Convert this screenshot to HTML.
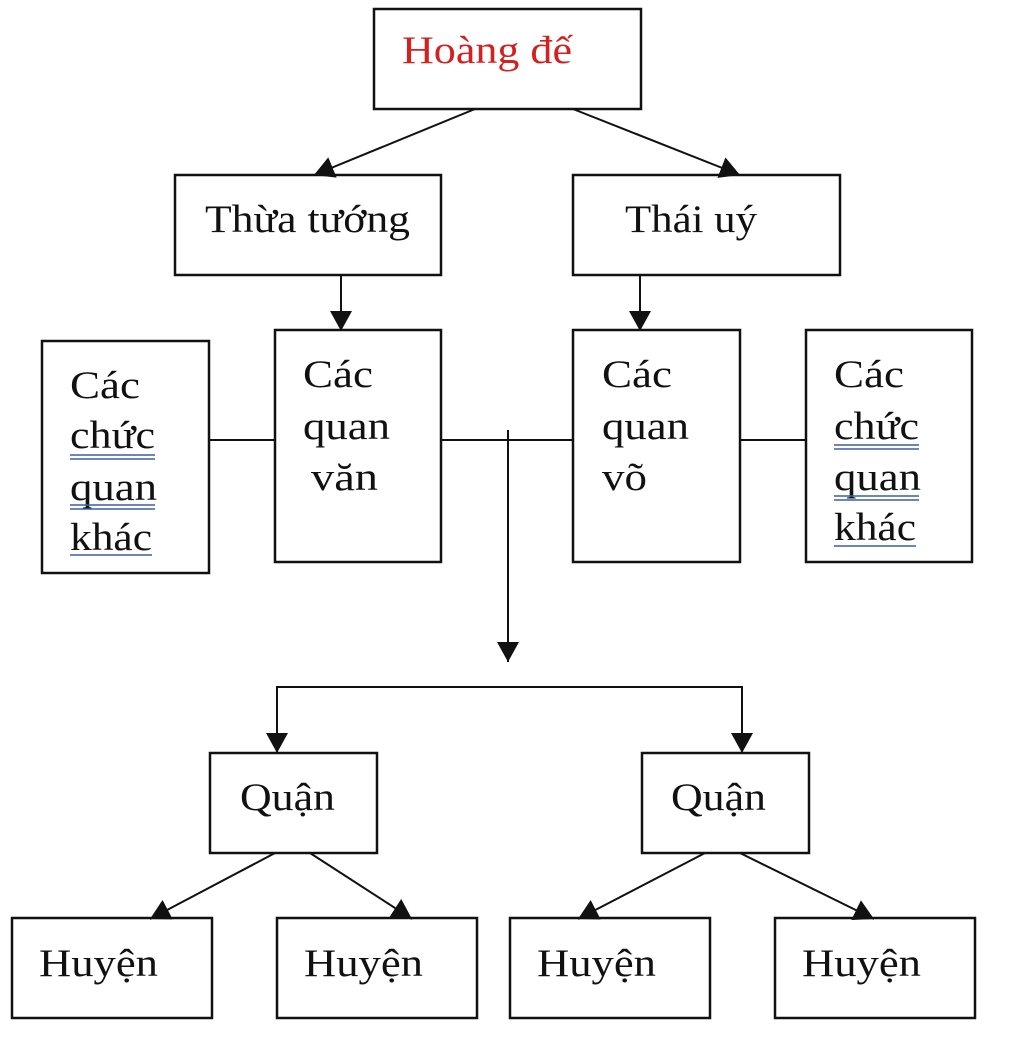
<!DOCTYPE html>
<html><head><meta charset="utf-8"><style>
html,body{margin:0;padding:0;background:#fff}
svg{display:block}
text{font-family:"Liberation Serif",serif;font-size:39px;fill:#111}
</style></head><body>
<svg width="1024" height="1051" viewBox="0 0 1024 1051" xmlns="http://www.w3.org/2000/svg">
<defs><marker id="b" markerWidth="22" markerHeight="22" refX="20" refY="11" orient="auto" markerUnits="userSpaceOnUse"><path d="M0,0 L20,11 L0,22 z" fill="#111"/></marker></defs>
<g fill="none" stroke="#111" stroke-width="2.5">
<rect x="374" y="9" width="267" height="100"/>
<rect x="175" y="175" width="266" height="100"/>
<rect x="573" y="175" width="267" height="100"/>
<rect x="42" y="341" width="167" height="232"/>
<rect x="275" y="330" width="166" height="232"/>
<rect x="573" y="330" width="167" height="232"/>
<rect x="806" y="330" width="166" height="232"/>
<rect x="210" y="753" width="167" height="100"/>
<rect x="642" y="753" width="167" height="100"/>
<rect x="12" y="918" width="200" height="100"/>
<rect x="277" y="918" width="200" height="100"/>
<rect x="510" y="918" width="200" height="100"/>
<rect x="775" y="918" width="200" height="100"/>
<g stroke-width="2">
<line x1="475" y1="109" x2="314" y2="175" marker-end="url(#b)"/>
<line x1="573" y1="109" x2="740" y2="175" marker-end="url(#b)"/>
<line x1="341" y1="275" x2="341" y2="331" marker-end="url(#b)"/>
<line x1="640" y1="275" x2="640" y2="331" marker-end="url(#b)"/>
<line x1="209" y1="440" x2="275" y2="440"/>
<line x1="441" y1="440" x2="573" y2="440"/>
<line x1="740" y1="440" x2="806" y2="440"/>
<line x1="508" y1="430" x2="508" y2="662" marker-end="url(#b)"/>
<polyline points="277,753 277,687 742,687 742,753"/>
<line x1="277" y1="730" x2="277" y2="753" marker-end="url(#b)"/>
<line x1="742" y1="730" x2="742" y2="753" marker-end="url(#b)"/>
<line x1="275" y1="853" x2="150" y2="919" marker-end="url(#b)"/>
<line x1="310" y1="853" x2="412" y2="919" marker-end="url(#b)"/>
<line x1="705" y1="853" x2="578" y2="919" marker-end="url(#b)"/>
<line x1="740" y1="853" x2="874" y2="919" marker-end="url(#b)"/>
</g></g>
<text x="402" y="63" textLength="170" lengthAdjust="spacingAndGlyphs" style="fill:#d42020">Hoàng đế</text>
<text x="205" y="232" textLength="205" lengthAdjust="spacingAndGlyphs">Thừa tướng</text>
<text x="625" y="232" textLength="132" lengthAdjust="spacingAndGlyphs">Thái uý</text>
<text x="70" y="398" textLength="70" lengthAdjust="spacingAndGlyphs">Các</text>
<text x="70" y="448" textLength="85" lengthAdjust="spacingAndGlyphs">chức</text>
<text x="70" y="500" textLength="87" lengthAdjust="spacingAndGlyphs">quan</text>
<text x="70" y="550" textLength="82" lengthAdjust="spacingAndGlyphs">khác</text>
<text x="303" y="387" textLength="70" lengthAdjust="spacingAndGlyphs">Các</text>
<text x="303" y="439" textLength="87" lengthAdjust="spacingAndGlyphs">quan</text>
<text x="311" y="490" textLength="67" lengthAdjust="spacingAndGlyphs">văn</text>
<text x="602" y="387" textLength="70" lengthAdjust="spacingAndGlyphs">Các</text>
<text x="602" y="439" textLength="87" lengthAdjust="spacingAndGlyphs">quan</text>
<text x="602" y="490" textLength="45" lengthAdjust="spacingAndGlyphs">võ</text>
<text x="834" y="387" textLength="70" lengthAdjust="spacingAndGlyphs">Các</text>
<text x="834" y="439" textLength="85" lengthAdjust="spacingAndGlyphs">chức</text>
<text x="834" y="490" textLength="87" lengthAdjust="spacingAndGlyphs">quan</text>
<text x="834" y="540" textLength="82" lengthAdjust="spacingAndGlyphs">khác</text>
<g stroke="#3a5fa8" stroke-width="1.5">
<line x1="70" y1="455" x2="155" y2="455"/><line x1="70" y1="459" x2="155" y2="459"/>
<line x1="70" y1="505" x2="155" y2="505"/><line x1="70" y1="509" x2="155" y2="509"/>
<line x1="70" y1="555" x2="152" y2="555"/>
<line x1="834" y1="445" x2="919" y2="445"/><line x1="834" y1="449" x2="919" y2="449"/>
<line x1="834" y1="496" x2="919" y2="496"/><line x1="834" y1="500" x2="919" y2="500"/>
<line x1="834" y1="546" x2="916" y2="546"/>
</g>
<text x="240" y="810" textLength="95" lengthAdjust="spacingAndGlyphs">Quận</text>
<text x="671" y="810" textLength="95" lengthAdjust="spacingAndGlyphs">Quận</text>
<text x="39" y="976" textLength="119" lengthAdjust="spacingAndGlyphs">Huyện</text>
<text x="304" y="976" textLength="119" lengthAdjust="spacingAndGlyphs">Huyện</text>
<text x="537" y="976" textLength="119" lengthAdjust="spacingAndGlyphs">Huyện</text>
<text x="802" y="976" textLength="119" lengthAdjust="spacingAndGlyphs">Huyện</text>
</svg>
</body></html>
